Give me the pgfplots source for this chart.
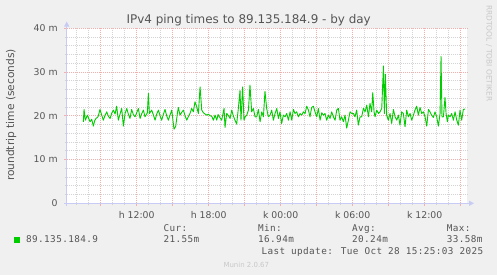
\documentclass[border=0pt]{standalone}
\usepackage{fontspec}
\setmainfont{DejaVu Sans}
\newfontfamily\legendmono[LetterSpace=4.3]{DejaVu Sans Mono}
\usepackage{pgfplots}
\pgfplotsset{compat=1.18}
\usetikzlibrary{arrows.meta}
\definecolor{bg}{HTML}{F0F0F0}
\definecolor{txt}{HTML}{555555}
\definecolor{gridminor}{HTML}{D4D4D4}
\definecolor{gridmajor}{HTML}{F0B0B0}
\definecolor{axcol}{HTML}{C8CCF4}
\definecolor{linegreen}{HTML}{00CC00}
\definecolor{wm}{HTML}{C8C8C8}
\pgfplotstableread{
h v
7.555 18.63
7.61 21.45
7.72 19.0
7.89 20.15
8.0 19.4
8.11 18.63
8.25 19.2
8.39 17.64
8.5 18.9
8.61 19.39
8.78 19.77
8.94 21.45
9.08 20.2
9.22 19.0
9.36 20.1
9.50 20.91
9.64 19.9
9.78 19.39
9.92 20.6
10.06 21.3
10.2 20.4
10.33 22.2
10.47 19.0
10.6 20.3
10.75 21.68
10.89 17.64
11.03 20.53
11.17 21.68
11.3 20.4
11.44 19.39
11.58 21.45
11.72 20.3
11.86 19.77
12.0 20.7
12.14 21.68
12.28 19.39
12.42 20.5
12.56 21.3
12.69 19.77
12.89 20.69
12.97 25.1
13.06 20.53
13.25 21.3
13.39 20.2
13.53 19.0
13.67 20.4
13.81 21.3
13.95 20.0
14.08 19.0
14.22 20.3
14.36 21.45
14.5 20.0
14.64 19.0
14.78 20.2
14.92 21.3
15.11 16.94
15.25 17.6
15.39 20.53
15.47 21.9
15.61 20.15
15.75 20.8
15.89 21.3
16.03 20.0
16.17 19.0
16.3 19.8
16.44 20.53
16.58 21.68
16.72 20.91
16.86 23.2
17.0 22.06
17.14 20.53
17.28 26.6
17.42 21.3
17.56 20.69
17.7 20.4
17.83 20.15
17.97 20.38
18.11 20.0
18.25 19.92
18.39 19.0
18.53 20.15
18.67 19.0
18.78 20.3
18.89 19.77
19.08 19.0
19.28 21.68
19.36 17.33
19.5 20.53
19.64 20.1
19.78 19.39
19.92 21.3
20.05 20.0
20.19 19.0
20.33 18.1
20.47 21.68
20.61 25.8
20.69 19.0
20.83 26.6
20.94 19.0
21.05 19.8
21.17 20.15
21.31 21.3
21.44 27.0
21.58 20.91
21.72 21.68
21.86 19.77
22.0 19.77
22.14 21.45
22.28 18.63
22.42 20.91
22.56 19.77
22.69 25.6
22.83 21.68
22.97 19.77
23.11 20.15
23.25 21.3
23.39 19.0
23.53 20.53
23.67 21.68
23.81 19.39
23.94 20.91
24.08 18.25
24.22 20.15
24.36 19.77
24.50 20.53
24.64 19.0
24.78 20.91
24.92 19.0
25.06 21.45
25.19 20.53
25.33 20.91
25.47 19.77
25.61 20.53
25.75 20.15
25.89 20.91
26.03 20.53
26.17 22.2
26.31 21.3
26.44 19.77
26.58 21.9
26.72 22.2
26.86 20.91
27.0 19.77
27.14 21.68
27.28 19.0
27.42 20.69
27.56 20.15
27.69 20.53
27.83 19.0
27.97 20.15
28.11 19.39
28.25 20.91
28.39 19.77
28.53 19.0
28.67 21.3
28.81 21.68
28.94 19.0
29.08 19.77
29.22 18.63
29.36 20.15
29.50 17.2
29.64 19.0
29.78 20.91
29.92 20.53
30.06 20.53
30.19 19.77
30.33 21.3
30.47 17.87
30.61 19.77
30.75 19.77
30.89 21.68
31.03 20.91
31.17 22.44
31.31 19.77
31.44 22.82
31.58 20.91
31.67 25.3
31.78 20.91
31.86 19.77
32.0 21.3
32.14 20.53
32.28 20.91
32.42 21.68
32.56 31.4
32.64 20.53
32.72 29.5
32.83 20.15
32.97 19.0
33.11 20.53
33.25 18.25
33.39 21.45
33.53 19.77
33.67 19.0
33.81 20.15
33.94 17.87
34.08 20.91
34.22 20.53
34.36 17.49
34.50 21.3
34.64 19.77
34.78 20.53
34.92 19.0
35.06 20.15
35.19 21.3
35.33 22.2
35.47 20.15
35.61 21.9
35.75 20.53
35.89 20.91
36.03 19.77
36.17 17.64
36.31 21.45
36.44 20.91
36.58 20.15
36.72 19.62
36.86 20.91
37.0 19.77
37.14 17.64
37.28 20.53
37.36 33.58
37.44 19.77
37.56 19.77
37.69 24.2
37.78 20.53
37.89 18.63
37.97 20.15
38.11 19.77
38.25 20.53
38.39 19.0
38.53 20.91
38.67 19.0
38.81 17.87
38.94 21.3
39.08 19.0
39.22 21.45
39.36 21.55
}\pingdata
\begin{document}
\begin{tikzpicture}[x=1bp,y=1bp]
\path[use as bounding box] (0,0) rectangle (497,275);
\fill[bg] (0,0) rectangle (497,275);
\begin{axis}[
  at={(66.7bp,71.7bp)}, anchor=south west,
  scale only axis, width=400.6bp, height=175bp,
  xmin=6.1667, xmax=39.55, ymin=0, ymax=40,
  axis background/.style={fill=white},
  axis line style={draw=none},
  xtick={9,12,...,39},
  xticklabels={,h 12:00,,h 18:00,,k 00:00,,k 06:00,,k 12:00,},
  minor xtick={7,8,10,11,13,14,16,17,19,20,22,23,25,26,28,29,31,32,34,35,37,38},
  ytick={0,10,20,30,40},
  yticklabels={0,10 m,20 m,30 m,40 m},
  minor ytick={2,4,6,8,12,14,16,18,22,24,26,28,32,34,36,38},
  grid=both,
  major grid style={draw=gridmajor, line width=0.7bp, dash pattern=on 1bp off 1bp},
  minor grid style={draw=gridminor, line width=0.7bp, dash pattern=on 1bp off 1bp},
  tick align=outside, xtick pos=bottom, ytick pos=left,
  major tick length=2.5bp, minor tick length=2bp,
  major tick style={draw=gridmajor, line width=0.7bp},
  minor tick style={draw=gridminor, line width=0.7bp},
  tick label style={font=\fontsize{9.36pt}{11pt}\selectfont, text=txt},
  xticklabel style={anchor=north, inner sep=0pt, yshift=-5bp},
  yticklabel style={anchor=east, inner sep=0pt, xshift=-6.4bp},
]
\addplot[linegreen, line width=0.9bp, line join=round] table[x=h, y=v] {\pingdata};
\end{axis}
% axis lines with arrows
\draw[axcol, line width=0.8bp, -{Triangle[length=5bp,width=5bp]}] (64,71.7) -- (474,71.7);
\draw[axcol, line width=0.8bp, -{Triangle[length=5bp,width=5bp]}] (66.7,69) -- (66.7,253.5);
% texts
\node[anchor=base, inner sep=0pt, font=\fontsize{12pt}{14pt}\selectfont, text=txt] at (248.7,251.6) {IPv4 ping times to 89.135.184.9 - by day};
\node[anchor=center, rotate=90, inner sep=0pt, font=\fontsize{10.7pt}{12pt}\selectfont, text=txt] at (11.2,160) {roundtrip time (seconds)};
\node[anchor=center, rotate=-90, inner sep=0pt, font=\fontsize{7.5pt}{9pt}\selectfont, text=wm] at (489,221.6) {RRDTOOL / TOBI OETIKER};
% legend
\fill[linegreen] (14,32.3) rectangle (19.7,37.7);
\begin{scope}[every node/.style={anchor=base west, inner sep=0pt, text=txt, font=\legendmono\fontsize{9.36pt}{11pt}\selectfont}]
\node at (26,32.3) {89.135.184.9};
\node at (163.3,43.9) {Cur:};
\node at (163.3,32.3) {21.55m};
\node at (258,43.9) {Min:};
\node at (258,32.3) {16.94m};
\node at (352,43.9) {Avg:};
\node at (352,32.3) {20.24m};
\node at (446.7,43.9) {Max:};
\node at (446.7,32.3) {33.58m};
\node at (261.3,20.7) {Last update: Tue Oct 28 15:25:03 2025};
\end{scope}
\node[anchor=base west, inner sep=0pt, font=\fontsize{7pt}{8pt}\selectfont, text=wm] at (223.3,7.3) {Munin 2.0.67};
\end{tikzpicture}
\end{document}
